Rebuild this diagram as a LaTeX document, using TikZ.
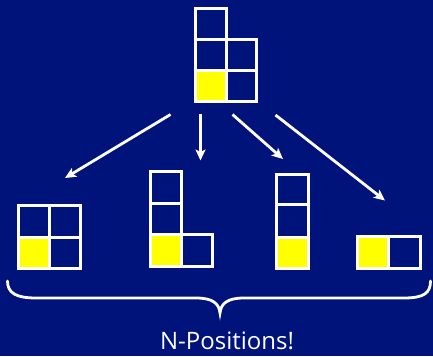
\documentclass[tikz,border=0pt]{standalone}
\usepackage{fontspec}
\newfontfamily\labfont{Open Sans}
\usetikzlibrary{arrows.meta}
\definecolor{bgblue}{RGB}{0,19,122}
\definecolor{cellyellow}{RGB}{255,255,0}
\begin{document}
\begin{tikzpicture}[x=1pt,y=-1pt,
  gridline/.style={draw=white,line width=3pt},
  yel/.style={fill=cellyellow},
  movearrow/.style={draw=white,line width=2.8pt,-{Stealth[length=11pt,width=10pt,inset=2.5pt]}},
  bracestyle/.style={draw=white,line width=2.8pt,line cap=round},
  lbl/.style={text=white,font=\labfont\fontsize{24}{27}\selectfont,inner sep=0pt}]
\fill[bgblue] (0,0) rectangle (433,356);
\useasboundingbox (0,0) rectangle (433,356);
% top shape
\fill[yel] (195,70.5) rectangle (226,101.5);
\draw[gridline] (195,8) rectangle (226,39.5);
\draw[gridline] (195,39.5) rectangle (226,70.5);
\draw[gridline] (195,70.5) rectangle (226,101.5);
\draw[gridline] (226,39.5) rectangle (256,70.5);
\draw[gridline] (226,70.5) rectangle (256,101.5);
% shape A (2x2)
\fill[yel] (18.5,237.3) rectangle (49.3,268.3);
\draw[gridline] (18.5,205.8) rectangle (49.3,237.3);
\draw[gridline] (49.3,205.8) rectangle (80,237.3);
\draw[gridline] (18.5,237.3) rectangle (49.3,268.3);
\draw[gridline] (49.3,237.3) rectangle (80,268.3);
% shape B (L)
\fill[yel] (150.8,234.8) rectangle (181.5,266.2);
\draw[gridline] (150.8,171.5) rectangle (181.5,203);
\draw[gridline] (150.8,203) rectangle (181.5,234.8);
\draw[gridline] (150.8,234.8) rectangle (181.5,266.2);
\draw[gridline] (181.5,234.8) rectangle (212.2,266.2);
% shape C (column of 3)
\fill[yel] (276.5,237.3) rectangle (308,268.5);
\draw[gridline] (276.5,174.2) rectangle (308,204.7);
\draw[gridline] (276.5,204.7) rectangle (308,237.3);
\draw[gridline] (276.5,237.3) rectangle (308,268.5);
% shape D (row of 2)
\fill[yel] (357.8,236.8) rectangle (388.8,268.5);
\draw[gridline] (357.8,236.8) rectangle (388.8,268.5);
\draw[gridline] (388.8,236.8) rectangle (420.2,268.5);
% arrows
\coordinate (s1) at (170.5,114.5);
\coordinate (e1) at (65,178);
\coordinate (s2) at (200.5,114);
\coordinate (e2) at (200.5,160.5);
\coordinate (s3) at (232.5,114.5);
\coordinate (e3) at (283,159);
\coordinate (s4) at (275.5,115);
\coordinate (e4) at (385,200.5);
\draw[movearrow] (s1) -- (e1);
\draw[movearrow] (s2) -- (e2);
\draw[movearrow] (s3) -- (e3);
\draw[movearrow] (s4) -- (e4);
% brace
\draw[bracestyle] (7.5,281) .. controls (7.5,293) and (16,298) .. (36,298)
  -- (196,298) .. controls (212,298) and (219,303) .. (220,313)
  .. controls (221,303) and (228,298) .. (244,298)
  -- (404,298) .. controls (424,298) and (430.5,293) .. (430.5,281);
\node[lbl] (label) at (227,341) {N-Positions!};
\end{tikzpicture}
\end{document}
